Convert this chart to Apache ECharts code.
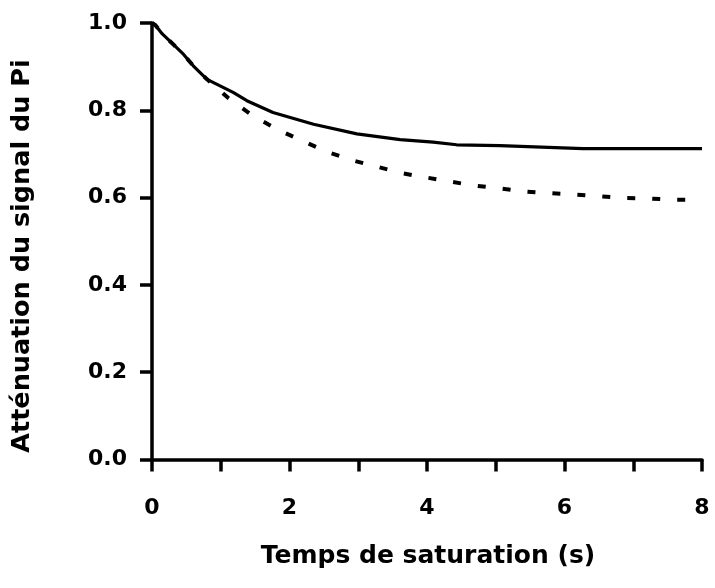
<!DOCTYPE html>
<html>
<head>
<meta charset="utf-8">
<script src="https://cdn.jsdelivr.net/npm/echarts@6/dist/echarts.min.js"></script>
<style>
html,body{margin:0;padding:0;background:#fff;}
#chart{width:715px;height:588px;}
</style>
</head>
<body>
<div id="chart"></div>
<script>
// Data
var solidTime = [0, 0.05, 0.15, 0.31, 0.46, 0.6, 0.8, 0.99, 1.18, 1.38, 1.76, 2.35, 2.98, 3.61, 4.09, 4.43, 5.06, 6.27, 8.0];
var solidVals = [1.0, 0.995, 0.975, 0.951, 0.928, 0.902, 0.871, 0.856, 0.841, 0.822, 0.795, 0.768, 0.746, 0.733, 0.727, 0.721, 0.719, 0.712, 0.712];

var dashTime = [0, 0.05, 0.15, 0.31, 0.46, 0.6, 0.8, 0.99, 1.11, 1.47, 1.84, 2.2, 2.56, 2.9, 3.27, 3.63, 3.99, 4.36, 4.72, 5.06, 5.43, 5.79, 6.13, 6.52, 6.86, 7.22, 7.58, 8.0];
var dashVals = [1.0, 0.995, 0.975, 0.951, 0.928, 0.902, 0.871, 0.845, 0.828, 0.787, 0.755, 0.729, 0.704, 0.686, 0.671, 0.656, 0.646, 0.636, 0.627, 0.621, 0.614, 0.610, 0.607, 0.603, 0.599, 0.598, 0.595, 0.595];

var xTicks = [0, 2, 4, 6, 8];
var yTicks = [0.0, 0.2, 0.4, 0.6, 0.8, 1.0];

var xTitle = 'Temps de saturation (s)';
var yTitle = 'Atténuation du signal du Pi';

function pairs(t, v) { return t.map(function (x, i) { return [x, v[i]]; }); }

var FONT = '"DejaVu Sans", sans-serif';
var chart = echarts.init(document.getElementById('chart'), null, {renderer: 'canvas'});
var axisLineStyle = {color: '#000', width: 3.5};
chart.setOption({
  animation: false,
  backgroundColor: '#fff',
  grid: {left: 152, right: 13, top: 23, bottom: 128.5, containLabel: false},
  xAxis: {
    type: 'value', min: 0, max: 8, interval: 1,
    axisLine: {show: true, onZero: false, lineStyle: axisLineStyle},
    axisTick: {show: true, length: 12, lineStyle: axisLineStyle},
    splitLine: {show: false},
    axisLabel: {
      margin: 38, color: '#000', fontFamily: FONT, fontWeight: 'bold', fontSize: 22,
      formatter: function (v) { return xTicks.indexOf(v) >= 0 ? String(v) : ''; }
    }
  },
  yAxis: {
    type: 'value', min: 0, max: 1.0, interval: 0.2,
    axisLine: {show: true, onZero: false, lineStyle: axisLineStyle},
    axisTick: {show: true, length: 12, lineStyle: axisLineStyle},
    splitLine: {show: false},
    axisLabel: {
      margin: 25, color: '#000', fontFamily: FONT, fontWeight: 'bold', fontSize: 22,
      formatter: function (v) {
        for (var i = 0; i < yTicks.length; i++) { if (Math.abs(yTicks[i] - v) < 1e-9) return yTicks[i].toFixed(1); }
        return '';
      }
    }
  },
  graphic: [
    {type: 'text', x: 428, y: 556, style: {text: xTitle, fill: '#000', font: 'bold 25px ' + FONT, align: 'center', verticalAlign: 'middle'}},
    {type: 'text', x: 22, y: 256, rotation: Math.PI / 2,
      style: {text: yTitle, fill: '#000', font: 'bold 25.5px ' + FONT, align: 'center', verticalAlign: 'middle'}}
  ],
  series: [
    {type: 'line', data: pairs(dashTime, dashVals), showSymbol: false, smooth: false,
      lineStyle: {color: '#000', width: 4, type: [8, 17]}, z: 2},
    {type: 'line', data: pairs(solidTime, solidVals), showSymbol: false, smooth: false,
      lineStyle: {color: '#000', width: 3.2, type: 'solid', join: 'round'}, z: 3}
  ]
});
</script>
</body>
</html>
